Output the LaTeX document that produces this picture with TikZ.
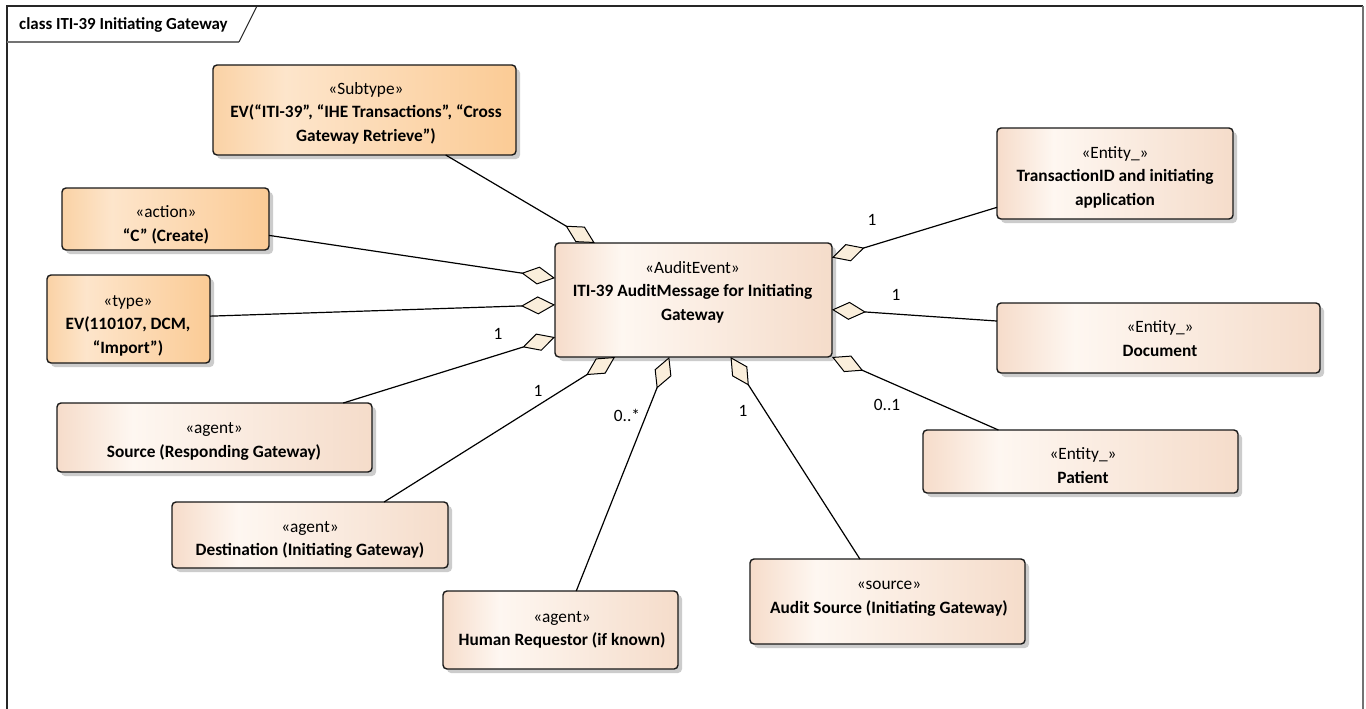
\documentclass[tikz,border=0pt]{standalone}
\usepackage{fontspec}
\setmainfont{Carlito}
\usetikzlibrary{arrows.meta,shadows}
\definecolor{oL}{HTML}{FAD2A5}
\definecolor{oM}{HTML}{FDE5CB}
\definecolor{oR}{HTML}{FBCB95}
\definecolor{bL}{HTML}{F6DCCA}
\definecolor{bM}{HTML}{FEF7F1}
\definecolor{bR}{HTML}{F5DCCA}
\definecolor{dfill}{HTML}{FAEEDB}
\pgfdeclarehorizontalshading{orangesh}{100bp}{color(0bp)=(oL); color(25bp)=(oL); color(37bp)=(oM); color(75bp)=(oR); color(100bp)=(oR)}
\pgfdeclarehorizontalshading{beigesh}{100bp}{color(0bp)=(bL); color(25bp)=(bL); color(37bp)=(bM); color(75bp)=(bR); color(100bp)=(bR)}
\tikzset{
  umlbox/.style={draw=black!90, line width=1.4pt, rounded corners=4pt, inner sep=0pt, outer sep=0pt,
    drop shadow={shadow xshift=4pt, shadow yshift=-4pt, fill=black!20, opacity=1}},
  obox/.style={umlbox, shade, shading=orangesh},
  bbox/.style={umlbox, shade, shading=beigesh},
  txt/.style={align=center, font=\fontsize{17.3}{23.5}\selectfont, inner sep=0pt},
  mult/.style={font=\fontsize{17.3}{19}\selectfont, inner sep=0pt},
  conn/.style={draw=black, line width=1.2pt, -{Diamond[length=34pt,width=18pt,fill=dfill,line width=1pt]}},
}
\begin{document}
\begin{tikzpicture}[x=1pt,y=-1pt]
\useasboundingbox[fill=white] (0,0) rectangle (1366,709);
% frame
\draw[line width=1.3pt, black!85] (7,709) -- (7,6) -- (1363,6);
\draw[line width=2pt, black!55] (1363,6) -- (1363,709);
\draw[line width=2pt, black!55] (7,42) -- (239,42);
\draw[line width=1pt, black!85] (239,42) -- (257,6);
\node[font=\bfseries\fontsize{16.9}{19}\selectfont, anchor=west, inner sep=0pt] (title) at (19,24.5) {class ITI-39 Initiating Gateway};

% boxes
\node[obox, minimum width=303, minimum height=90] (sub) at (364.5,110) {};
\node[txt] (subT) at (366,112.8) {\strut«Subtype»\\\strut\textbf{EV(“ITI-39”, “IHE Transactions”, “Cross}\\\strut\textbf{Gateway Retrieve”)}};

\node[obox, minimum width=207, minimum height=62] (act) at (165.5,219) {};
\node[txt] (actT) at (166,224.8) {\strut«action»\\\strut\textbf{“C” (Create)}};

\node[obox, minimum width=163, minimum height=88] (typ) at (128.5,319) {};
\node[txt] (typT) at (128,324.8) {\strut«type»\\\strut\textbf{EV(110107, DCM,}\\\strut\textbf{“Import”)}};

\node[bbox, minimum width=315, minimum height=69] (src) at (214.5,437.5) {};
\node[txt] (srcT) at (214,440.8) {\strut«agent»\\\strut\textbf{Source (Responding Gateway)}};

\node[bbox, minimum width=276, minimum height=66] (dst) at (310,535) {};
\node[txt] (dstT) at (310,539.3) {\strut«agent»\\\strut\textbf{Destination (Initiating Gateway)}};

\node[bbox, minimum width=235, minimum height=78] (hum) at (560.5,630) {};
\node[txt] (humT) at (562,629.3) {\strut«agent»\\\strut\textbf{Human Requestor (if known)}};

\node[bbox, minimum width=275, minimum height=85] (aud) at (887.5,601.5) {};
\node[txt] (audT) at (889,596.8) {\strut«source»\\\strut\textbf{Audit Source (Initiating Gateway)}};

\node[bbox, minimum width=277, minimum height=114] (main) at (693.5,300) {};
\node[txt] (mainT) at (692.5,291.8) {\strut«AuditEvent»\\\strut\textbf{ITI-39 AuditMessage for Initiating}\\\strut\textbf{Gateway}};

\node[bbox, minimum width=236, minimum height=91] (trx) at (1115,173.5) {};
\node[txt] (trxT) at (1115,176.8) {\strut«Entity\_»\\\strut\textbf{TransactionID and initiating}\\\strut\textbf{application}};

\node[bbox, minimum width=323, minimum height=70] (doc) at (1158.5,338) {};
\node[txt] (docT) at (1160,339.8) {\strut«Entity\_»\\\strut\textbf{Document}};

\node[bbox, minimum width=315, minimum height=63] (pat) at (1080.5,461.5) {};
\node[txt] (patT) at (1083,466.8) {\strut«Entity\_»\\\strut\textbf{Patient}};

% connectors
\draw[conn] (sub.331.1) -- (main.150.7);
\draw[conn] (act.351.3) -- (main.171.0);
\draw[conn] (typ.2.8) -- (main.182.1);
\draw[conn] (src.15.7) -- (main.195.3);
\draw[conn] (dst.24.3) -- (main.216.0);
\draw[conn] (hum.68.3) -- (main.247.6);
\draw[conn] (aud.123.8) -- (main.303.3);
\draw[conn] (pat.159.3) -- (main.south east);
\draw[conn] (doc.174.3) -- (main.356.7);
\draw[conn] (trx.196.3) -- (main.17.1);

% multiplicities
\node[mult] (m1) at (872,220) {1};
\node[mult] (m2) at (896,295) {1};
\node[mult] (m3) at (887,405) {0..1};
\node[mult] (m4) at (498,334) {1};
\node[mult] (m5) at (538,391) {1};
\node[mult] (m6) at (627,415) {0..*};
\node[mult] (m7) at (743,411) {1};
\end{tikzpicture}
\end{document}
